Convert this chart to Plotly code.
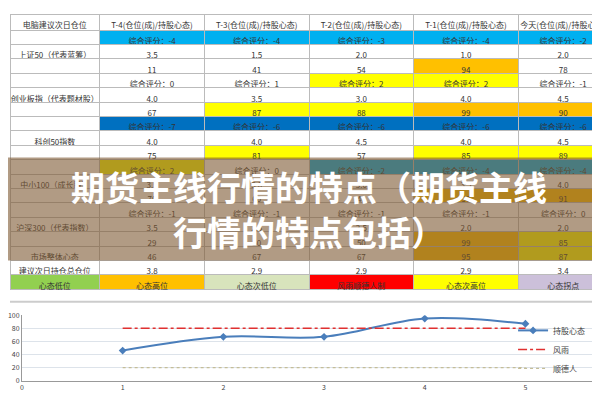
import plotly.graph_objects as go

headers = ["电脑建议次日仓位", "T-4(仓位(成)/持股心态)", "T-3(仓位(成)/持股心态)",
           "T-2(仓位(成)/持股心态)", "T-1(仓位(成)/持股心态)", "今天(仓位(成)/持股心态)"]
groups = ["上证50（代表蓝筹）", "创业板指（代表题材股）", "科创50指数", "中小100（成长股）", "沪深300（代表指数）"]
scores = [[-4, -4, -3, -4, -2], [0, 1, 2, 2, -1], [-7, -6, -6, -6, -6], [2, 0, -2, -4, -4], [-1, -1, -1, -1, 0]]
positions = [["3.5", "1.5", "2.0", "1.0", "2.0"], ["4.0", "3.5", "3.0", "4.0", "4.5"],
             ["4.0", "4.0", "4.5", "4.0", "4.5"], ["3.5", "3.0", "3.0", "3.5", "4.0"],
             ["3.5", "2.5", "2.5", "2.0", "2.0"]]
moods = [[11, 41, 54, 94, 78], [67, 87, 88, 99, 90], [75, 81, 57, 85, 89],
         [70, 60, 40, 90, 91], [29, 50, 50, 99, 85]]
market = [46, 67, 67, 95, 87]
next_pos = ["3.8", "2.9", "2.9", "2.9", "3.4"]
status = ["心态低位", "心态高位", "心态次低位", "风雨顺德人制", "心态次高位", "心态拐点"]
days = [1, 2, 3, 4, 5]
wind = [80, 80, 80, 80, 80]
shunde = [20, 20, 20, 20, 20]

W, Y, O, LB, DB = "white", "#ffff00", "#ffc000", "#00b0f0", "#0070c0"
score_colors = [[LB]*5, [W, W, Y, Y, W], [DB]*5, [Y, W, LB, LB, LB], [W]*5]
mood_colors = [[W, W, W, O, W], [W, Y, Y, O, O], [W, Y, W, Y, Y], [W, W, W, O, O], [W, W, W, O, Y]]
status_colors = ["#92d050", "#ffc000", "#d8e4bc", "#ff0000", "#ffff00", "#ccc0da"]

cols = [[] for _ in range(6)]
fills = [[] for _ in range(6)]
for g in range(5):
    cols[0] += ["", groups[g], ""]
    fills[0] += [W, W, W]
    for c in range(5):
        cols[c+1] += [f"综合评分：{scores[g][c]}", positions[g][c], str(moods[g][c])]
        fills[c+1] += [score_colors[g][c], W, mood_colors[g][c]]
cols[0] += ["市场整体心态", "建议次日持仓总仓位", status[0]]
fills[0] += [W, W, status_colors[0]]
for c in range(5):
    cols[c+1] += [str(market[c]), next_pos[c], status[c+1]]
    fills[c+1] += [[W, W, W, O, Y][c], W, status_colors[c+1]]

fig = go.Figure()
fig.add_trace(go.Table(
    domain=dict(x=[0, 1], y=[0.26, 1]),
    columnwidth=[90, 105, 105, 105, 105, 90],
    header=dict(values=headers, height=16, fill_color="white", line_color="#bbbbbb",
                font=dict(size=8, color="#333", family="Noto Sans CJK SC"), align="center"),
    cells=dict(values=cols, height=14.4, fill_color=fills, line_color="#bbbbbb",
               font=dict(size=8, color="#333", family="Noto Sans CJK SC"), align="center"),
))
fig.add_trace(go.Scatter(x=days, y=market, name="持股心态", mode="lines+markers",
                         line=dict(color="#4a7ebb", width=2, shape="spline"),
                         marker=dict(symbol="diamond", size=6)))
fig.add_trace(go.Scatter(x=days, y=wind, name="风雨", mode="lines",
                         line=dict(color="#e03030", width=1.5, dash="dashdot")))
fig.add_trace(go.Scatter(x=days, y=shunde, name="顺德人", mode="lines",
                         line=dict(color="#c4bd97", width=1.2, dash="dot")))
fig.update_layout(
    width=600, height=400, margin=dict(l=0, r=0, t=0, b=0),
    paper_bgcolor="white", plot_bgcolor="white",
    font=dict(family="Noto Sans CJK SC", size=7, color="#444"),
    xaxis=dict(domain=[0.02, 1], range=[0, 5.82], tickvals=[0, 1, 2, 3, 4, 5],
               showgrid=False, showline=True, linecolor="#999", zeroline=False),
    yaxis=dict(domain=[0.06, 0.2275], range=[0, 100], tickvals=[0, 20, 40, 60, 80, 100],
               gridcolor="#dde3ea", showline=True, linecolor="#999", zeroline=False),
    legend=dict(x=0.97, xanchor="right", y=0.14, yanchor="middle", bgcolor="rgba(0,0,0,0)",
                font=dict(size=8, family="Noto Sans CJK SC"), itemwidth=30, tracegroupgap=0),
    shapes=[dict(type="line", xref="paper", yref="paper", x0=0, x1=1, y0=0.262, y1=0.262,
                 line=dict(color="#ccc", width=2)),
            dict(type="line", xref="paper", yref="paper", x0=0, x1=1, y0=0.005, y1=0.005,
                 line=dict(color="#ccc", width=2))],
    annotations=[dict(xref="paper", yref="paper", x=0.5, y=0.5, xanchor="center", yanchor="middle",
                      width=620, height=100, showarrow=False, bgcolor="rgba(125,88,50,0.6)",
                      text="<b>期货主线行情的特点（期货主线<br>行情的特点包括）</b>",
                      font=dict(size=34, color="white", family="Noto Sans CJK SC"))],
)
fig.write_html("out.html")
